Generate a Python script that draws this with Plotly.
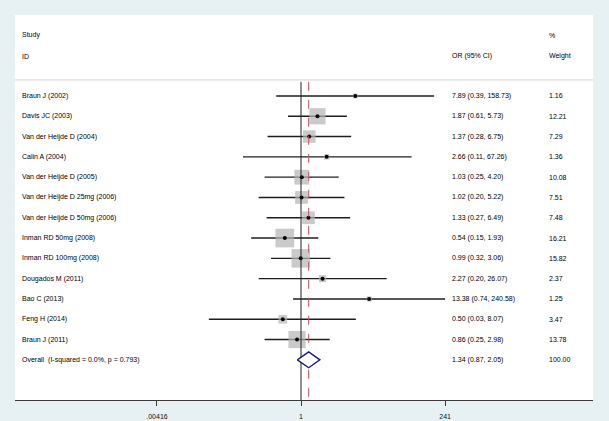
import math
import plotly.graph_objects as go

studies = ["Braun J (2002)", "Davis JC (2003)", "Van der Heijde D (2004)", "Calin A (2004)",
           "Van der Heijde D (2005)", "Van der Heijde D 25mg (2006)", "Van der Heijde D 50mg (2006)",
           "Inman RD 50mg (2008)", "Inman RD 100mg (2008)", "Dougados M (2011)", "Bao C (2013)",
           "Feng H (2014)", "Braun J (2011)"]
or_vals = [7.89, 1.87, 1.37, 2.66, 1.03, 1.02, 1.33, 0.54, 0.99, 2.27, 13.38, 0.50, 0.86]
ci_lo = [0.39, 0.61, 0.28, 0.11, 0.25, 0.20, 0.27, 0.15, 0.32, 0.20, 0.74, 0.03, 0.25]
ci_hi = [158.73, 5.73, 6.75, 67.26, 4.20, 5.22, 6.49, 1.93, 3.06, 26.07, 240.58, 8.07, 2.98]
weights = [1.16, 12.21, 7.29, 1.36, 10.08, 7.51, 7.48, 16.21, 15.82, 2.37, 1.25, 3.47, 13.78]

overall_label = "Overall  (I-squared = 0.0%, p = 0.793)"
overall_or, overall_lo, overall_hi, overall_w = 1.34, 0.87, 2.05, 100.00

tick_vals = [0.00416, 1, 241]
tick_text = [".00416", "1", "241"]

n = len(studies)
rows = list(range(n))
overall_row = n

FONT = "Liberation Sans, Arial, sans-serif"
fig = go.Figure()

# CI lines
for i in rows:
    fig.add_trace(go.Scatter(x=[ci_lo[i], ci_hi[i]], y=[i, i], mode="lines",
                             line=dict(color="#1e1e1e", width=1.4), hoverinfo="skip", showlegend=False))

# weight squares
fig.add_trace(go.Scatter(x=or_vals, y=rows, mode="markers",
                         marker=dict(symbol="square", color="#b4b4b4",
                                     size=[4.64 * math.sqrt(w) for w in weights], line=dict(width=0)),
                         hoverinfo="skip", showlegend=False))
# point dots
fig.add_trace(go.Scatter(x=or_vals, y=rows, mode="markers",
                         marker=dict(symbol="circle", color="black", size=4),
                         hoverinfo="skip", showlegend=False))

y_top_line = -0.7
y_bottom = 14.98
# null line
fig.add_trace(go.Scatter(x=[1, 1], y=[y_top_line, y_bottom], mode="lines",
                         line=dict(color="#222222", width=1), hoverinfo="skip", showlegend=False))
# overall dashed line
fig.add_trace(go.Scatter(x=[overall_or, overall_or], y=[y_top_line, y_bottom], mode="lines",
                         line=dict(color="#c8505a", width=1, dash="dash"), hoverinfo="skip", showlegend=False))

# diamond
h = 0.39
fig.add_trace(go.Scatter(x=[overall_lo, overall_or, overall_hi, overall_or, overall_lo],
                         y=[overall_row, overall_row - h, overall_row, overall_row + h, overall_row],
                         mode="lines", fill="toself", fillcolor="white",
                         line=dict(color="#1a1a7a", width=1.4), hoverinfo="skip", showlegend=False))

L, R, T, B = 15, 16, 15, 21
W, H = 609, 421
pw = W - L - R

def px(x):
    return (x - L) / pw

ann = []
def txt(x, y, s):
    ann.append(dict(x=px(x), y=y, xref="paper", yref="y", text=s, showarrow=False,
                    xanchor="left", yanchor="middle", font=dict(family=FONT, size=7, color="#000000")))

txt(20, -3.0, "Study")
txt(20, -1.97, "ID")
txt(450, -1.97, "OR (95% CI)")
txt(547, -3.0, "%")
txt(547, -1.97, "Weight")

for i in rows:
    txt(20, i, studies[i])
    txt(450, i, f"{or_vals[i]:.2f} ({ci_lo[i]:.2f}, {ci_hi[i]:.2f})")
    txt(547, i, f"{weights[i]:.2f}")
txt(20, overall_row, overall_label.replace("  ", "&nbsp; "))
txt(450, overall_row, f"{overall_or:.2f} ({overall_lo:.2f}, {overall_hi:.2f})")
txt(547, overall_row, f"{overall_w:.2f}")

shapes = [dict(type="line", xref="paper", yref="y", x0=0, x1=1, y0=-0.79, y1=-0.79,
               line=dict(color="#d4d4d4", width=1))]

x0_log = (L - 301) / 60.5
x1_log = (W - R - 301) / 60.5

fig.update_layout(
    width=W, height=H,
    margin=dict(l=L, r=R, t=T, b=B, autoexpand=False),
    paper_bgcolor="#e7f0f2",
    plot_bgcolor="white",
    annotations=ann,
    shapes=shapes,
    xaxis=dict(type="log", range=[x0_log, x1_log], tickvals=tick_vals, ticktext=tick_text,
               automargin=False,
               showgrid=False, zeroline=False, showline=True, linecolor="#3a3a3a", linewidth=1,
               ticks="outside", ticklen=5, tickcolor="#3a3a3a", ticklabelstandoff=5,
               tickfont=dict(family=FONT, size=7, color="#111111")),
    yaxis=dict(range=[y_bottom, -3.99], showgrid=False, zeroline=False, showticklabels=False,
               showline=False, automargin=False),
)

fig.write_html("out.html", config={"displayModeBar": False},
               post_script="document.body.style.margin='0px';")
